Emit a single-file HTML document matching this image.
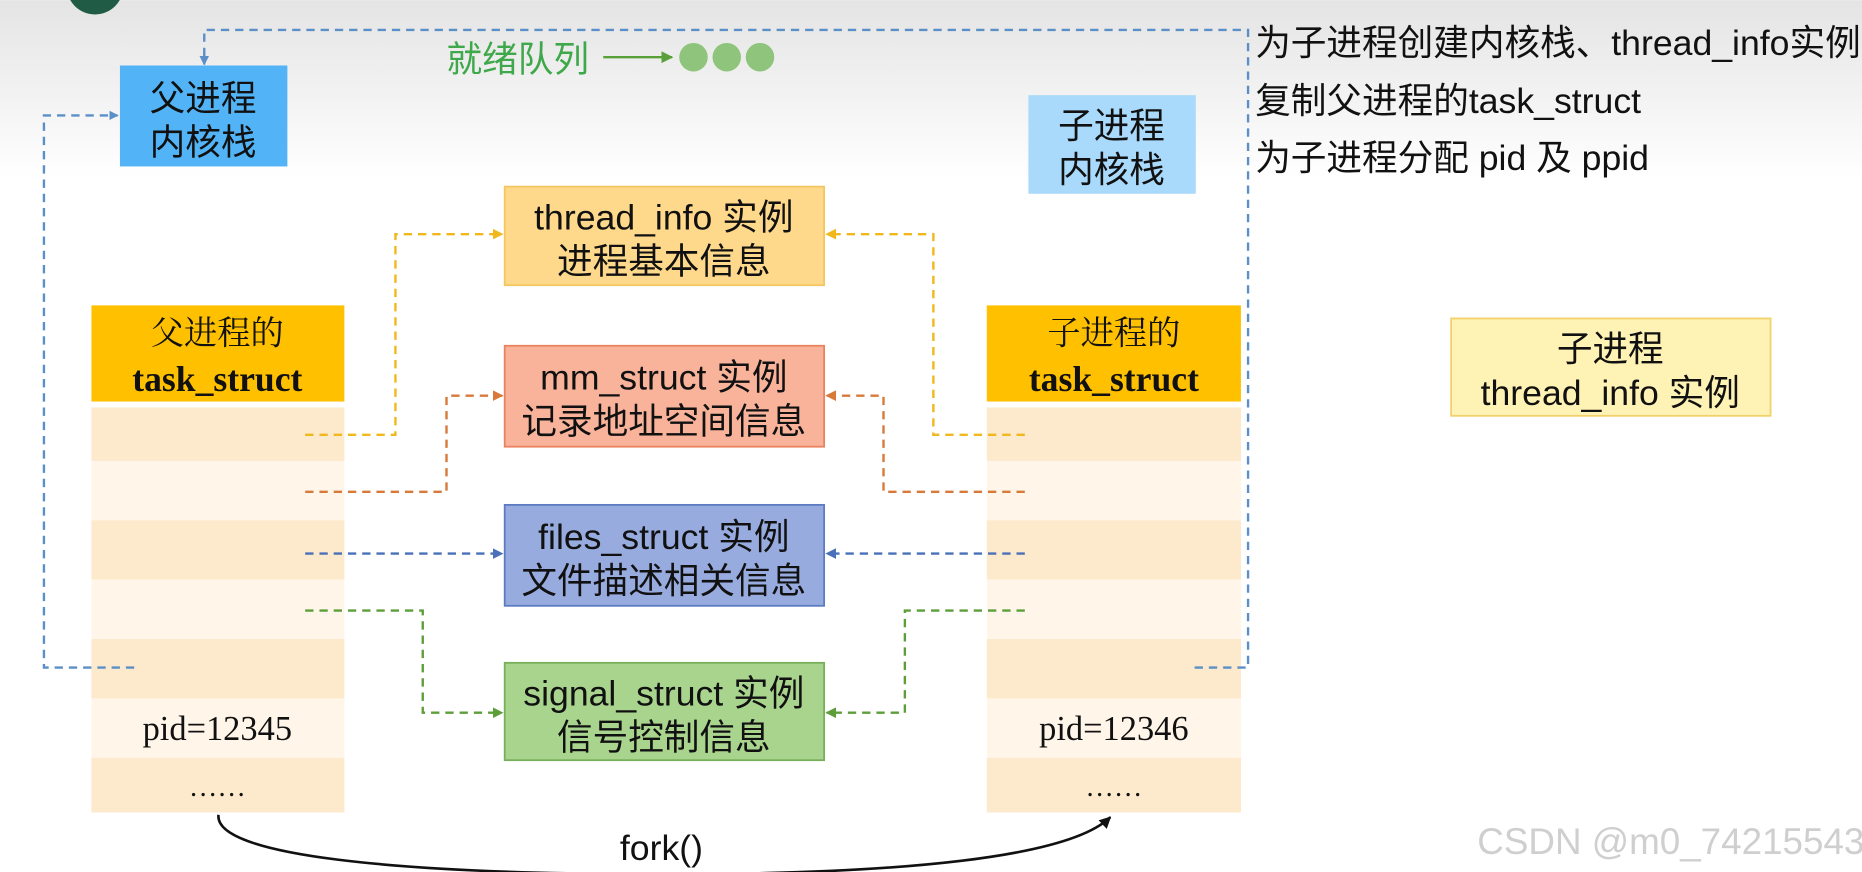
<!DOCTYPE html>
<html><head><meta charset="utf-8"><style>
html,body{margin:0;padding:0;background:#fff;width:1862px;height:872px;overflow:hidden}
svg{display:block}
.s{font-family:"Liberation Sans","Noto Sans CJK SC",sans-serif}
.r{font-family:"Liberation Serif","Noto Serif CJK SC",serif}
</style></head><body>
<svg width="1862" height="872" viewBox="0 0 1568 734" xmlns="http://www.w3.org/2000/svg">
<defs>
<linearGradient id="bg" x1="0" y1="0" x2="0" y2="1"><stop offset="0" stop-color="#e4e4e4"/><stop offset="1" stop-color="#ffffff"/></linearGradient>
<marker id="ab" markerWidth="8" markerHeight="8" refX="7" refY="4" orient="auto" markerUnits="userSpaceOnUse"><path d="M0,0L8,4L0,8z" fill="#5b8fc7"/></marker>
<marker id="ay" markerWidth="9" markerHeight="9" refX="8" refY="4.5" orient="auto" markerUnits="userSpaceOnUse"><path d="M0,0L9,4.5L0,9z" fill="#f0b81c"/></marker>
<marker id="ao" markerWidth="9" markerHeight="9" refX="8" refY="4.5" orient="auto" markerUnits="userSpaceOnUse"><path d="M0,0L9,4.5L0,9z" fill="#d8793a"/></marker>
<marker id="an" markerWidth="9" markerHeight="9" refX="8" refY="4.5" orient="auto" markerUnits="userSpaceOnUse"><path d="M0,0L9,4.5L0,9z" fill="#4a70b8"/></marker>
<marker id="ag" markerWidth="9" markerHeight="9" refX="8" refY="4.5" orient="auto" markerUnits="userSpaceOnUse"><path d="M0,0L9,4.5L0,9z" fill="#5e9e3a"/></marker>
<marker id="ak" markerWidth="10" markerHeight="10" refX="9" refY="5" orient="auto" markerUnits="userSpaceOnUse"><path d="M0,0L10,5L0,10z" fill="#111"/></marker>
<marker id="agr" markerWidth="10" markerHeight="10" refX="9" refY="5" orient="auto" markerUnits="userSpaceOnUse"><path d="M0,0L10,5L0,10z" fill="#5aa03a"/></marker>
</defs>
<rect x="0" y="0" width="1568" height="150" fill="url(#bg)"/>
<rect x="0" y="150" width="1568" height="584" fill="#fff"/>
<circle cx="80" cy="-12" r="24" fill="#1f5b45"/>

<text x="376" y="60" class="s" font-size="30" fill="#3fa84a">就绪队列</text>
<line x1="508" y1="48" x2="566" y2="48" stroke="#5aa03a" stroke-width="2" marker-end="url(#agr)"/>
<g fill="#8ec47c"><ellipse cx="584" cy="48" rx="12" ry="12"/><ellipse cx="612" cy="48" rx="12" ry="12"/><ellipse cx="640" cy="48" rx="12" ry="12"/></g>

<rect x="101" y="55" width="141" height="85" fill="#52b4f7"/>
<text x="171" y="93" class="s" font-size="30" text-anchor="middle" fill="#111">父进程</text>
<text x="171" y="130" class="s" font-size="30" text-anchor="middle" fill="#111">内核栈</text>

<rect x="866" y="80" width="141" height="83" fill="#a9d9fb"/>
<text x="936" y="116" class="s" font-size="30" text-anchor="middle" fill="#111">子进程</text>
<text x="936" y="153" class="s" font-size="30" text-anchor="middle" fill="#111">内核栈</text>

<g class="s" font-size="30" fill="#111">
<text x="1057" y="46">为子进程创建内核栈、thread_info实例</text>
<text x="1057" y="95">复制父进程的task_struct</text>
<text x="1057" y="143">为子进程分配 pid 及 ppid</text>
</g>

<!-- task structs -->
<g>
<rect x="77" y="257" width="213" height="81" fill="#ffc000"/>
<rect x="77" y="343" width="213" height="45" fill="#fde9cb"/>
<rect x="77" y="388" width="213" height="50" fill="#fff6e9"/>
<rect x="77" y="438" width="213" height="50" fill="#fde9cb"/>
<rect x="77" y="488" width="213" height="50" fill="#fff6e9"/>
<rect x="77" y="538" width="213" height="50" fill="#fde9cb"/>
<rect x="77" y="588" width="213" height="50" fill="#fff6e9"/>
<rect x="77" y="638" width="213" height="46" fill="#fde9cb"/>
</g>
<g>
<rect x="831" y="257" width="214" height="81" fill="#ffc000"/>
<rect x="831" y="343" width="214" height="45" fill="#fde9cb"/>
<rect x="831" y="388" width="214" height="50" fill="#fff6e9"/>
<rect x="831" y="438" width="214" height="50" fill="#fde9cb"/>
<rect x="831" y="488" width="214" height="50" fill="#fff6e9"/>
<rect x="831" y="538" width="214" height="50" fill="#fde9cb"/>
<rect x="831" y="588" width="214" height="50" fill="#fff6e9"/>
<rect x="831" y="638" width="214" height="46" fill="#fde9cb"/>
</g>
<g class="r" fill="#111" text-anchor="middle">
<text x="183" y="290" font-size="28">父进程的</text>
<text x="183" y="329" font-size="30" font-weight="bold">task_struct</text>
<text x="183" y="623" font-size="29">pid=12345</text>
<text x="183" y="670" font-size="24">……</text>
<text x="938" y="290" font-size="28">子进程的</text>
<text x="938" y="329" font-size="30" font-weight="bold">task_struct</text>
<text x="938" y="623" font-size="29">pid=12346</text>
<text x="938" y="670" font-size="24">……</text>
</g>

<!-- blue dashed -->
<g fill="none" stroke="#5b8fc7" stroke-width="2" stroke-dasharray="7,5">
<path d="M1006,562H1051V25H172V48"/>
<path d="M113,562H37V97H99" marker-end="url(#ab)"/>
</g>
<path d="M172,46V54" stroke="#5b8fc7" stroke-width="2" marker-end="url(#ab)"/>

<!-- center boxes -->
<g class="s" font-size="30" fill="#111" text-anchor="middle">
<rect x="425" y="157" width="269" height="83" fill="#fed98c" stroke="#f3c65e" stroke-width="1.5"/>
<text x="559" y="193">thread_info 实例</text><text x="559" y="230">进程基本信息</text>
<rect x="425" y="291" width="269" height="85" fill="#f8b39a" stroke="#e9825f" stroke-width="1.5"/>
<text x="559" y="328">mm_struct 实例</text><text x="559" y="365">记录地址空间信息</text>
<rect x="425" y="425" width="269" height="85" fill="#98abdf" stroke="#5c7bc0" stroke-width="1.5"/>
<text x="559" y="462">files_struct 实例</text><text x="559" y="499">文件描述相关信息</text>
<rect x="425" y="558" width="269" height="82" fill="#a9d48e" stroke="#78b05a" stroke-width="1.5"/>
<text x="559" y="594">signal_struct 实例</text><text x="559" y="631">信号控制信息</text>
<rect x="1222" y="268" width="269" height="82" fill="#fff2b5" stroke="#f2d06a" stroke-width="1.5"/>
<text x="1356" y="304">子进程</text><text x="1356" y="341">thread_info 实例</text>
</g>

<!-- connectors -->
<g fill="none" stroke-width="2" stroke-dasharray="7,5">
<path d="M257,366H333V197H423" stroke="#f0b81c" marker-end="url(#ay)"/>
<path d="M863,366H786V197H696" stroke="#f0b81c" marker-end="url(#ay)"/>
<path d="M257,414H376V333H423" stroke="#d8793a" marker-end="url(#ao)"/>
<path d="M863,414H744V333H696" stroke="#d8793a" marker-end="url(#ao)"/>
<path d="M257,466H423" stroke="#4a70b8" marker-end="url(#an)"/>
<path d="M863,466H696" stroke="#4a70b8" marker-end="url(#an)"/>
<path d="M257,514H356V600H423" stroke="#5e9e3a" marker-end="url(#ag)"/>
<path d="M863,514H762V600H696" stroke="#5e9e3a" marker-end="url(#ag)"/>
</g>

<!-- fork -->
<path d="M184,686C180,720 330,736 560,736C760,736 900,722 935,688" fill="none" stroke="#111" stroke-width="2.2" marker-end="url(#ak)"/>
<text x="557" y="724" class="s" font-size="30" fill="#111" text-anchor="middle">fork()</text>
<text x="1244" y="719" class="s" font-size="31" fill="#cfcfcf">CSDN @m0_74215543</text>
</svg>
</body></html>
